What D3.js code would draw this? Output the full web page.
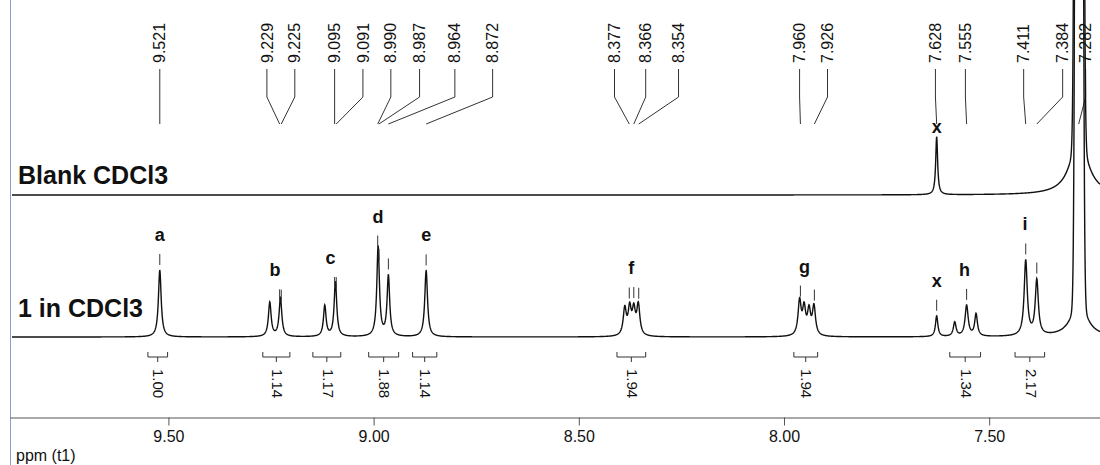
<!DOCTYPE html>
<html>
<head>
<meta charset="utf-8">
<script src="https://cdn.jsdelivr.net/npm/d3@7/dist/d3.min.js"></script>
<style>
body { margin: 0; background: #fff; }
svg { display: block; font-family: Arial, "Liberation Sans", sans-serif; }
</style>
</head>
<body>
<svg width="1100" height="465"></svg>
<script>
// picked peaks (ppm) and the ppm where the program put each label
var pickedPpm  = [9.521, 9.229, 9.225, 9.095, 9.091, 8.990, 8.987, 8.964, 8.872, 8.377, 8.366, 8.354, 7.960, 7.926, 7.628, 7.555, 7.411, 7.384, 7.282];
var pickedText = [9.521, 9.260, 9.192, 9.095, 9.026, 8.958, 8.888, 8.802, 8.710, 8.413, 8.337, 8.257, 7.962, 7.894, 7.631, 7.558, 7.416, 7.321, 7.265];

// "1 in CDCl3" lines: centre (ppm), height (relative to a), half width (ppm), shape
var samplePpm    = [9.521, 9.253, 9.227, 9.119, 9.093, 8.989, 8.964, 8.872, 8.388, 8.376, 8.366, 8.355, 7.962, 7.951, 7.939, 7.927, 7.628, 7.584, 7.555, 7.532, 7.411, 7.384, 7.281, 7.281];
var sampleHeight = [1.00, 0.51, 0.57, 0.46, 0.82, 1.34, 0.90, 0.99, 0.40, 0.39, 0.36, 0.45, 0.51, 0.39, 0.36, 0.43, 0.31, 0.21, 0.46, 0.33, 1.12, 0.82, 75, 0.6];
var sampleWidth  = [0.0040, 0.0040, 0.0040, 0.0038, 0.0038, 0.0038, 0.0038, 0.0040, 0.0045, 0.0045, 0.0045, 0.0045, 0.0045, 0.0045, 0.0045, 0.0045, 0.0035, 0.0040, 0.0045, 0.0040, 0.0045, 0.0045, 0.0048, 0.020];
var sampleShape  = ["L","L","L","L","L","L","L","L","L","L","L","L","L","L","L","L","L","L","L","L","L","L","G","L"];

// "Blank CDCl3" lines
var blankPpm    = [7.628, 7.281, 7.281];
var blankHeight = [0.87, 120, 0.9];
var blankWidth  = [0.0028, 0.0050, 0.024];
var blankShape  = ["L", "G", "L"];

// assignments
var assignLabel = ["a", "b", "c", "d", "e", "f", "g", "x", "h", "i"];
var assignPpm   = [9.521, 9.240, 9.105, 8.989, 8.872, 8.372, 7.950, 7.628, 7.560, 7.413];

// integrals
var integralFrom  = [9.550, 9.270, 9.148, 9.012, 8.905, 8.407, 7.976, 7.596, 7.437];
var integralTo    = [9.502, 9.204, 9.080, 8.939, 8.846, 8.337, 7.918, 7.521, 7.365];
var integralValue = ["1.00", "1.14", "1.17", "1.88", "1.14", "1.94", "1.94", "1.34", "2.17"];

var axisTicks = [9.50, 9.00, 8.50, 8.00, 7.50];

var svg = d3.select("svg");

var x = d3.scaleLinear().domain([9.886, 7.230]).range([10, 1100]);
var ySample = d3.scaleLinear().domain([0, 1]).range([337, 270]);
var yBlank = d3.scaleLinear().domain([0, 1]).range([195, 128]);

function spectrum(ppm, h, w, shape) {
  return function(v) {
    var s = 0;
    for (var i = 0; i < ppm.length; i++) {
      var u = (v - ppm[i]) / w[i];
      s += shape[i] === "G" ? h[i] * Math.exp(-u * u / 2) : h[i] / (1 + u * u);
    }
    return s;
  };
}
var sampleAt = spectrum(samplePpm, sampleHeight, sampleWidth, sampleShape);
var blankAt = spectrum(blankPpm, blankHeight, blankWidth, blankShape);

// left frame line
svg.append("line")
    .attr("x1", 10.5).attr("x2", 10.5)
    .attr("y1", 0).attr("y2", 465)
    .style("stroke", "#8aa0cc");

// axis
var axis = svg.append("g")
    .attr("transform", "translate(0,417.5)")
    .call(d3.axisBottom(x).tickValues(axisTicks).tickFormat(d3.format(".2f")).tickSize(8).tickSizeOuter(0).tickPadding(5));
axis.select(".domain").style("stroke", "#555");
axis.selectAll(".tick line").style("stroke", "#555");
axis.selectAll(".tick text").style("font-size", "16px").style("fill", "#111");

svg.append("text")
    .attr("x", 16).attr("y", 461)
    .style("font-size", "16px").style("fill", "#111")
    .text("ppm (t1)");

// peak pick labels at the top
var pick = svg.append("g");
pickedPpm.forEach(function(p, i) {
  var tx = x(pickedText[i]), px = x(p);
  pick.append("path")
      .attr("d", "M" + tx + ",69V97L" + px + ",124")
      .style("fill", "none").style("stroke", "#333");
  pick.append("text")
      .attr("transform", "translate(" + tx + ",63) rotate(-90)")
      .attr("dy", "0.35em")
      .style("font-size", "16px").style("fill", "#111")
      .text(d3.format(".3f")(p));
});

// integrals
var integ = svg.append("g");
integralFrom.forEach(function(f, i) {
  var x1 = x(f), x2 = x(integralTo[i]), xm = (x1 + x2) / 2;
  integ.append("path")
      .attr("d", "M" + x1 + ",352V357H" + x2 + "V352M" + xm + ",357V362")
      .style("fill", "none").style("stroke", "#333");
  integ.append("text")
      .attr("transform", "translate(" + (xm + 1) + ",369) rotate(90)")
      .attr("dy", "0.35em")
      .style("font-size", "15px").style("fill", "#111")
      .text(integralValue[i]);
});

// traces
var grid = d3.range(12, 1100.5, 0.25).map(function(px) { return x.invert(px); });
var line = d3.line().x(function(d) { return x(d[0]); }).y(function(d) { return Math.max(d[1], -30); });

svg.append("path")
    .datum(grid.map(function(v) { return [v, yBlank(blankAt(v))]; }))
    .attr("d", line)
    .style("fill", "none").style("stroke", "#111").style("stroke-width", 1.4);

svg.append("path")
    .datum(grid.map(function(v) { return [v, ySample(sampleAt(v))]; }))
    .attr("d", line)
    .style("fill", "none").style("stroke", "#111").style("stroke-width", 1.4);

// peak ticks above the sample trace
var tickTop = {};
pickedPpm.forEach(function(p) {
  if (p < 7.3) return;
  var top = ySample(sampleAt(p));
  tickTop[p] = top - 16;
  svg.append("line")
      .attr("x1", x(p)).attr("x2", x(p))
      .attr("y1", top - 16).attr("y2", top - 5)
      .style("stroke", "#333");
});

// assignment letters
assignLabel.forEach(function(l, i) {
  var tops = pickedPpm.filter(function(p) { return p > 7.3 && Math.abs(p - assignPpm[i]) < 0.035; })
      .map(function(p) { return tickTop[p]; });
  svg.append("text")
      .attr("x", x(assignPpm[i])).attr("y", d3.min(tops) - 13)
      .attr("text-anchor", "middle")
      .style("font-size", "18px").style("font-weight", "bold").style("fill", "#111")
      .text(l);
});

// blank impurity mark
svg.append("text")
    .attr("x", x(7.628)).attr("y", yBlank(blankAt(7.628)) - 3)
    .attr("text-anchor", "middle")
    .style("font-size", "18px").style("font-weight", "bold").style("fill", "#111")
    .text("x");

// trace names
svg.append("text")
    .attr("x", 18).attr("y", 184)
    .style("font-size", "25px").style("font-weight", "bold").style("fill", "#111")
    .text("Blank CDCl3");
svg.append("text")
    .attr("x", 18).attr("y", 317)
    .style("font-size", "25px").style("font-weight", "bold").style("fill", "#111")
    .text("1 in CDCl3");
</script>
</body>
</html>
